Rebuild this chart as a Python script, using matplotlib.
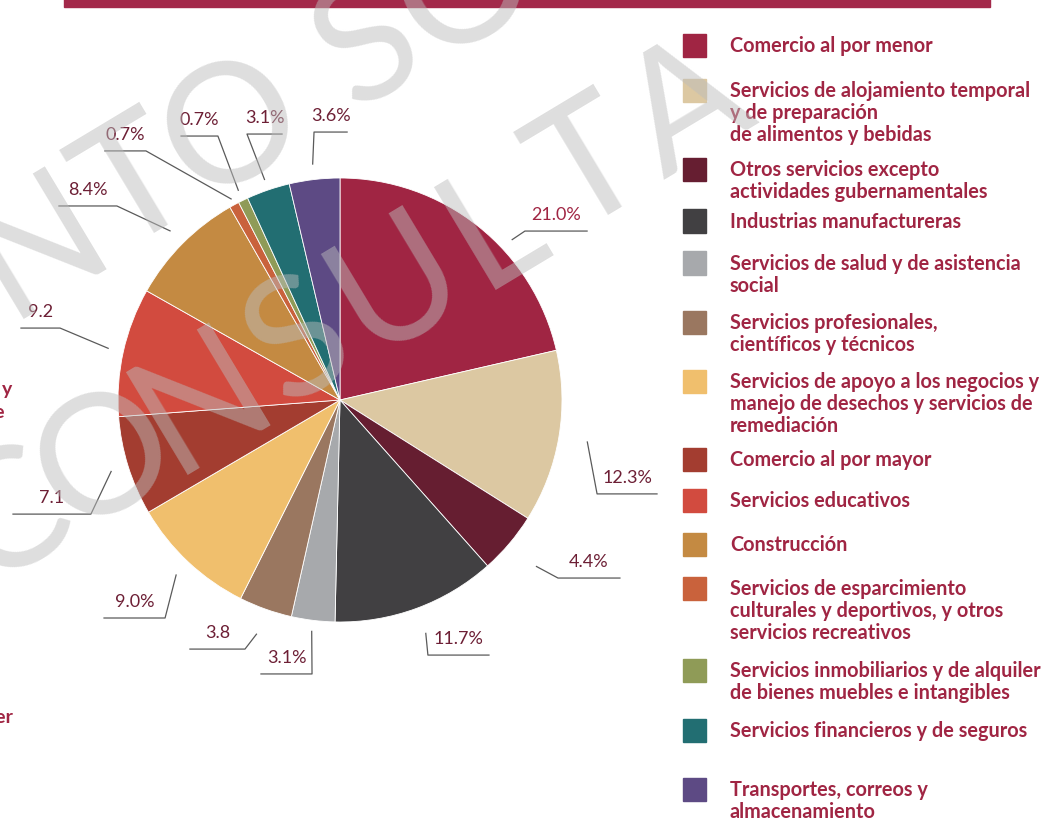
import numpy as np
import matplotlib
matplotlib.use('Agg')
import matplotlib.pyplot as plt
from matplotlib.patches import Rectangle

# datos del grafico (orden horario desde arriba)
sectores = [
    "Comercio al por menor",
    "Servicios de alojamiento temporal\ny de preparación\nde alimentos y bebidas",
    "Otros servicios excepto\nactividades gubernamentales",
    "Industrias manufactureras",
    "Servicios de salud y de asistencia\nsocial",
    "Servicios profesionales,\ncientíficos y técnicos",
    "Servicios de apoyo a los negocios y\nmanejo de desechos y servicios de\nremediación",
    "Comercio al por mayor",
    "Servicios educativos",
    "Construcción",
    "Servicios de esparcimiento\nculturales y deportivos, y otros\nservicios recreativos",
    "Servicios inmobiliarios y de alquiler\nde bienes muebles e intangibles",
    "Servicios financieros y de seguros",
    "Transportes, correos y\nalmacenamiento",
]
valores = [21.0, 12.3, 4.4, 11.7, 3.1, 3.8, 9.0, 7.1, 9.2, 8.4, 0.7, 0.7, 3.1, 3.6]
etiquetas = ["21.0%", "12.3%", "4.4%", "11.7%", "3.1%", "3.8", "9.0%",
             "7.1", "9.2", "8.4%", "0.7%", "0.7%", "3.1%", "3.6%"]
colores = ["#a02543", "#dcc8a2", "#661e31", "#414042", "#a7a9ac", "#9a7760",
           "#f0bf6d", "#a33d30", "#d24b3f", "#c48a42", "#c9623c", "#8f9b57",
           "#226e72", "#5d4a84"]

# lineas guia: radio de inicio, desfase angular (grados), quiebre (x, y) y x final
radio_guia = [1.06, 1.13, 1.16, 1.12, 1.05, 1.12, 1.08, 1.08, 1.07, 1.08, 1.03, 1.05, 1.05, 1.07]
desfase = [8.5, 0, 0, 0, 0, 0, 0, 0, 0, 0, 0, 0, 0, 0]
guias = [(0.833, 0.761, 1.113), (1.158, -0.423, 1.428), (0.982, -0.802, 1.261),
         (0.396, -1.149, 0.671), (-0.126, -1.234, -0.356), (-0.428, -1.122, -0.676),
         (-0.788, -0.982, -1.063), (-1.122, -0.514, -1.473), (-1.261, 0.324, -1.437),
         (-1.005, 0.874, -1.266), (-0.874, 1.122, -1.059), (-0.550, 1.189, -0.716),
         (-0.419, 1.198, -0.261), (-0.117, 1.207, 0.032)]
# posicion vertical de cada entrada de la leyenda (pixeles)
leyenda_y = [46, 91, 170, 222, 264, 323, 382, 460, 501, 545, 589, 671, 731, 790]

W, H = 1055, 820
rojo = "#a02543"
guinda = "#6d1f35"

def px(x):
    return x / W

def py(y):
    return 1 - y / H

fig = plt.figure(figsize=(W / 100, H / 100), dpi=100)

# barra superior
fig.patches.append(Rectangle((px(64), py(8)), px(990) - px(64), 8 / H,
                             transform=fig.transFigure, color="#a3294a", zorder=1))

# pastel
cx, cy, r = 340, 401, 222
ax = fig.add_axes([px(cx - r), py(cy + r), 2 * r / W, 2 * r / H])
ax.pie(valores, colors=colores, startangle=90, counterclock=False, radius=1,
       wedgeprops=dict(linewidth=0.6, edgecolor="white"))
ax.set_xlim(-1, 1)
ax.set_ylim(-1, 1)
ax.set_aspect("equal")
ax.axis("off")

# etiquetas con lineas guia
total = sum(valores)
acum = np.cumsum([0] + valores)
for i, lab in enumerate(etiquetas):
    medio = (acum[i] + valores[i] / 2) / total * 2 * np.pi + np.radians(desfase[i])
    sx, sy = radio_guia[i] * np.sin(medio), radio_guia[i] * np.cos(medio)
    ex, ey, fx = guias[i]
    ax.plot([sx, ex, fx], [sy, ey, ey], color="#5a5a5a", lw=0.9, clip_on=False)
    ax.text((ex + fx) / 2, ey + 0.075, lab, ha="center", va="center",
            fontsize=13, family="Lato", color=rojo if i == 0 else guinda)

# leyenda
for i, txt in enumerate(sectores):
    y0 = leyenda_y[i]
    fig.patches.append(Rectangle((px(683), py(y0 + 11.5)), 23 / W, 23 / H,
                                 transform=fig.transFigure, color=colores[i]))
    for j, linea in enumerate(txt.split("\n")):
        fig.text(px(730), py(y0 + 22 * j), linea, ha="left", va="center",
                 fontsize=14.3, family="Lato", fontweight="bold", color=rojo)

# fragmentos de texto cortados en el borde izquierdo
for t, x, y in [("y", 12, 390), ("de", 5, 413), ("quiler", 13, 718)]:
    fig.text(px(x), py(y), t, ha="right", va="center", fontsize=14,
             family="Lato", fontweight="bold", color=rojo)

# marca de agua, letra por letra a lo largo de una linea inclinada
ang = 31
u = np.array([np.cos(np.radians(ang)), -np.sin(np.radians(ang))])
n = np.array([np.sin(np.radians(ang)), np.cos(np.radians(ang))])
paso, cap = 113, 112

def marca(texto, t0, perp):
    t = t0
    for ch in texto:
        if ch == " ":
            t += 0.4 * paso
            continue
        c = t * u + perp * n
        t += paso
        # solo las letras que caen dentro de la imagen
        if c[0] < -60 or c[0] > W + 60 or c[1] < -60 or c[1] > H + 60:
            continue
        b = c + (cap / 2) * n
        fig.text(px(b[0]), py(b[1]), ch, ha="center", va="baseline",
                 rotation=ang, rotation_mode="anchor", fontsize=120,
                 family="Lato", fontweight="normal", color="#bcbcbc",
                 alpha=0.49, zorder=10)

marca("DOCUMENTO SOMETIDO", 20 - 7 * paso, 222)
marca("A CONSULTA", -146 - 1.4 * paso - paso, 440)

fig.savefig("out.png", dpi=100)
